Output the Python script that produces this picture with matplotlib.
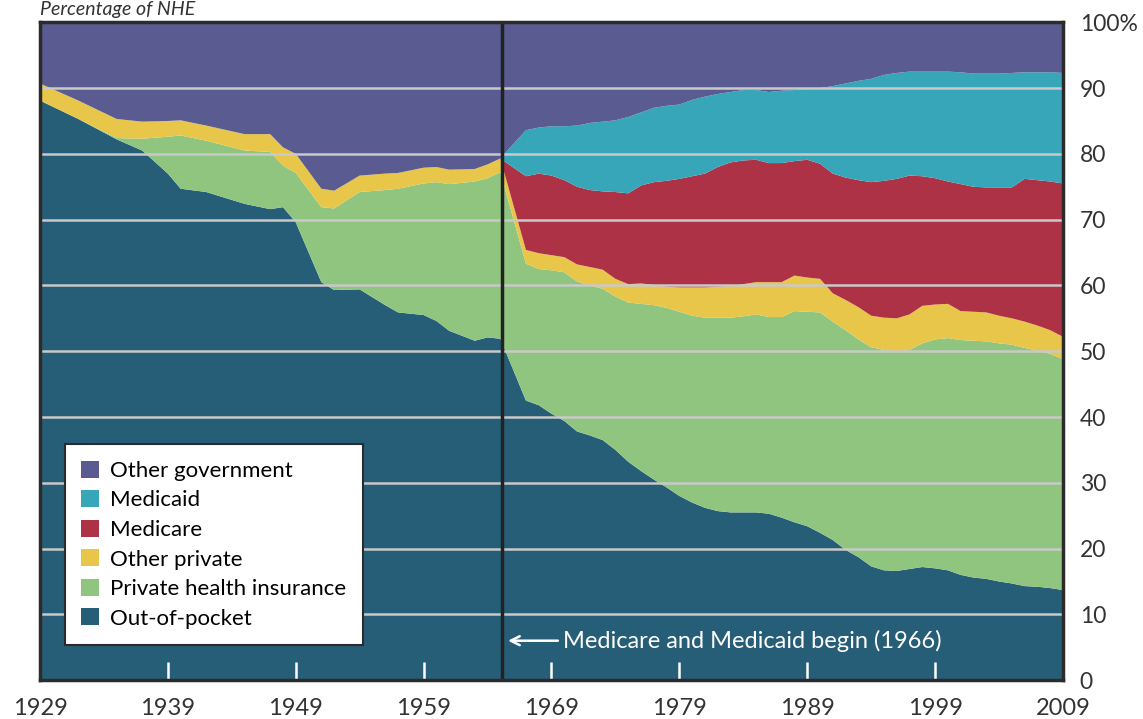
import numpy as np
import matplotlib.pyplot as plt

# values: cumulative tops of each band (percent of NHE)
years = [1929, 1932, 1935, 1937, 1939, 1940, 1942, 1945, 1947, 1948, 1949, 1951,
         1952, 1954, 1956, 1957, 1959, 1960, 1961, 1963, 1964, 1965] + list(range(1967, 2010))

oop_top = [88.1, 85.3, 82.2, 80.5, 77.0, 74.7, 74.2, 72.4, 71.6, 71.9, 69.6, 60.5,
           59.3, 59.4, 57.0, 55.9, 55.5, 54.6, 53.1, 51.6, 52.1, 51.9,
           42.5, 41.8, 40.5, 39.4, 37.8, 37.2, 36.5, 35.0, 33.2, 31.8, 30.5, 29.3, 28.0,
           27.0, 26.2, 25.7, 25.5, 25.5, 25.5, 25.3, 24.7, 24.0, 23.4, 22.4, 21.3, 19.8,
           18.7, 17.3, 16.7, 16.6, 16.9, 17.2, 17.0, 16.7, 16.0, 15.6, 15.4, 15.0, 14.7,
           14.3, 14.2, 14.0, 13.7]
phi_top = [88.1, 85.3, 82.4, 82.3, 82.6, 82.8, 82.0, 80.5, 80.3, 78.2, 77.1, 71.9,
           71.7, 74.2, 74.5, 74.7, 75.5, 75.7, 75.4, 75.8, 76.3, 77.2,
           63.3, 62.5, 62.3, 62.0, 60.6, 60.0, 59.5, 58.3, 57.4, 57.2, 57.0, 56.6, 56.0,
           55.4, 55.1, 55.1, 55.1, 55.3, 55.6, 55.2, 55.2, 56.1, 56.0, 55.9, 54.5, 53.2,
           51.8, 50.6, 50.2, 50.0, 50.2, 51.2, 51.8, 52.0, 51.7, 51.6, 51.5, 51.2, 51.0,
           50.5, 50.1, 49.6, 48.8]
other_private_top = [90.7, 88.1, 85.3, 84.9, 85.0, 85.1, 84.3, 83.0, 83.0, 81.0, 80.0, 74.7,
                     74.4, 76.7, 77.0, 77.1, 77.9, 78.0, 77.6, 77.7, 78.4, 79.3,
                     65.4, 64.9, 64.6, 64.3, 63.2, 62.8, 62.4, 61.0, 60.2, 60.3, 60.1, 59.8, 59.7,
                     59.7, 59.7, 59.8, 59.9, 60.2, 60.5, 60.5, 60.5, 61.5, 61.2, 61.0, 58.8, 57.8,
                     56.7, 55.4, 55.1, 55.0, 55.6, 56.9, 57.1, 57.2, 56.1, 56.0, 55.9, 55.4, 55.0,
                     54.5, 53.9, 53.2, 52.2]
medicare_top = [90.7, 88.1, 85.3, 84.9, 85.0, 85.1, 84.3, 83.0, 83.0, 81.0, 80.0, 74.7,
                74.4, 76.7, 77.0, 77.1, 77.9, 78.0, 77.6, 77.7, 78.4, 79.3,
                76.6, 77.0, 76.7, 76.0, 75.0, 74.5, 74.3, 74.2, 74.0, 75.2, 75.7, 75.9, 76.2,
                76.6, 77.0, 78.0, 78.7, 79.0, 79.1, 78.6, 78.6, 78.9, 79.1, 78.5, 77.0, 76.4,
                76.0, 75.7, 75.9, 76.2, 76.7, 76.6, 76.3, 75.8, 75.4, 75.0, 74.9, 74.9, 74.9,
                76.2, 76.0, 75.8, 75.5]
medicaid_top = [90.7, 88.1, 85.3, 84.9, 85.0, 85.1, 84.3, 83.0, 83.0, 81.0, 80.0, 74.7,
                74.4, 76.7, 77.0, 77.1, 77.9, 78.0, 77.6, 77.7, 78.4, 79.3,
                83.6, 84.0, 84.2, 84.2, 84.3, 84.7, 84.9, 85.1, 85.6, 86.3, 87.0, 87.3, 87.5,
                88.2, 88.7, 89.1, 89.4, 89.7, 89.7, 89.4, 89.6, 89.7, 89.9, 90.0, 90.3, 90.7,
                91.1, 91.4, 92.0, 92.3, 92.5, 92.5, 92.5, 92.5, 92.4, 92.2, 92.2, 92.2, 92.3,
                92.4, 92.4, 92.4, 92.3]

labels = ['Out-of-pocket', 'Private health insurance', 'Other private', 'Medicare',
          'Medicaid', 'Other government']
colors = ['#265e78', '#90c580', '#e8c64a', '#ae3246', '#36a6b8', '#5a5b91']

tops = np.array([oop_top, phi_top, other_private_top, medicare_top, medicaid_top,
                 [100] * len(years)])
shares = np.diff(np.vstack([np.zeros(len(years)), tops]), axis=0)

plt.rcParams['font.family'] = ['Lato', 'DejaVu Sans']

fig = plt.figure(figsize=(11.43, 7.19), dpi=100)
ax = fig.add_axes([0.035, 0.054, 0.895, 0.915])

ax.stackplot(years, shares, colors=colors, labels=labels, linewidth=0)

ax.set_xlim(1929, 2009)
ax.set_ylim(0, 100)

for v in range(10, 100, 10):
    ax.axhline(v, color='#c9c9c9', lw=1.8, zorder=3)
ax.axvline(1965.15, color='#222222', lw=2.5, zorder=4)

# axes frame and ticks
for s in ax.spines.values():
    s.set_color('#2b2b2b')
    s.set_linewidth(2.5)
    s.set_zorder(6)

ax.set_xticks(range(1929, 2010, 10))
ax.tick_params(axis='x', direction='in', length=13, width=1.8, color='white',
               labelsize=17, labelcolor='#333333', pad=13)
ax.yaxis.tick_right()
ax.set_yticks(range(0, 101, 10))
ax.set_yticklabels([str(v) for v in range(0, 100, 10)] + ['100%'])
ax.tick_params(axis='y', length=0, labelsize=16.5, labelcolor='#333333', pad=12)
for t in ax.get_yticklabels():
    t.set_horizontalalignment('left')

# arrow note for 1966
ax.annotate('', xy=(1965.6, 6.0), xytext=(1969.5, 6.0),
            arrowprops=dict(arrowstyle='->', color='white', lw=1.8,
                            mutation_scale=16, shrinkA=0, shrinkB=0), zorder=7)
ax.text(1969.9, 6.0, 'Medicare and Medicaid begin (1966)', color='white',
        fontsize=17, va='center', ha='left', zorder=7)

handles, lbls = ax.get_legend_handles_labels()
leg = ax.legend(handles[::-1], lbls[::-1], loc='lower left', bbox_to_anchor=(0.024, 0.053),
                borderaxespad=0, fontsize=16, frameon=True, fancybox=False,
                framealpha=1, facecolor='white',
                handlelength=0.8, handleheight=0.8, handletextpad=0.5,
                labelspacing=0.42, borderpad=0.75)
leg.get_frame().set_edgecolor('#2b2b2b')
leg.get_frame().set_linewidth(1.5)
leg.set_zorder(8)

fig.text(0.035, 0.999, 'Percentage of NHE', fontsize=14, color='#333333',
         style='italic', va='top', ha='left')

plt.savefig('out.png', dpi=100)
